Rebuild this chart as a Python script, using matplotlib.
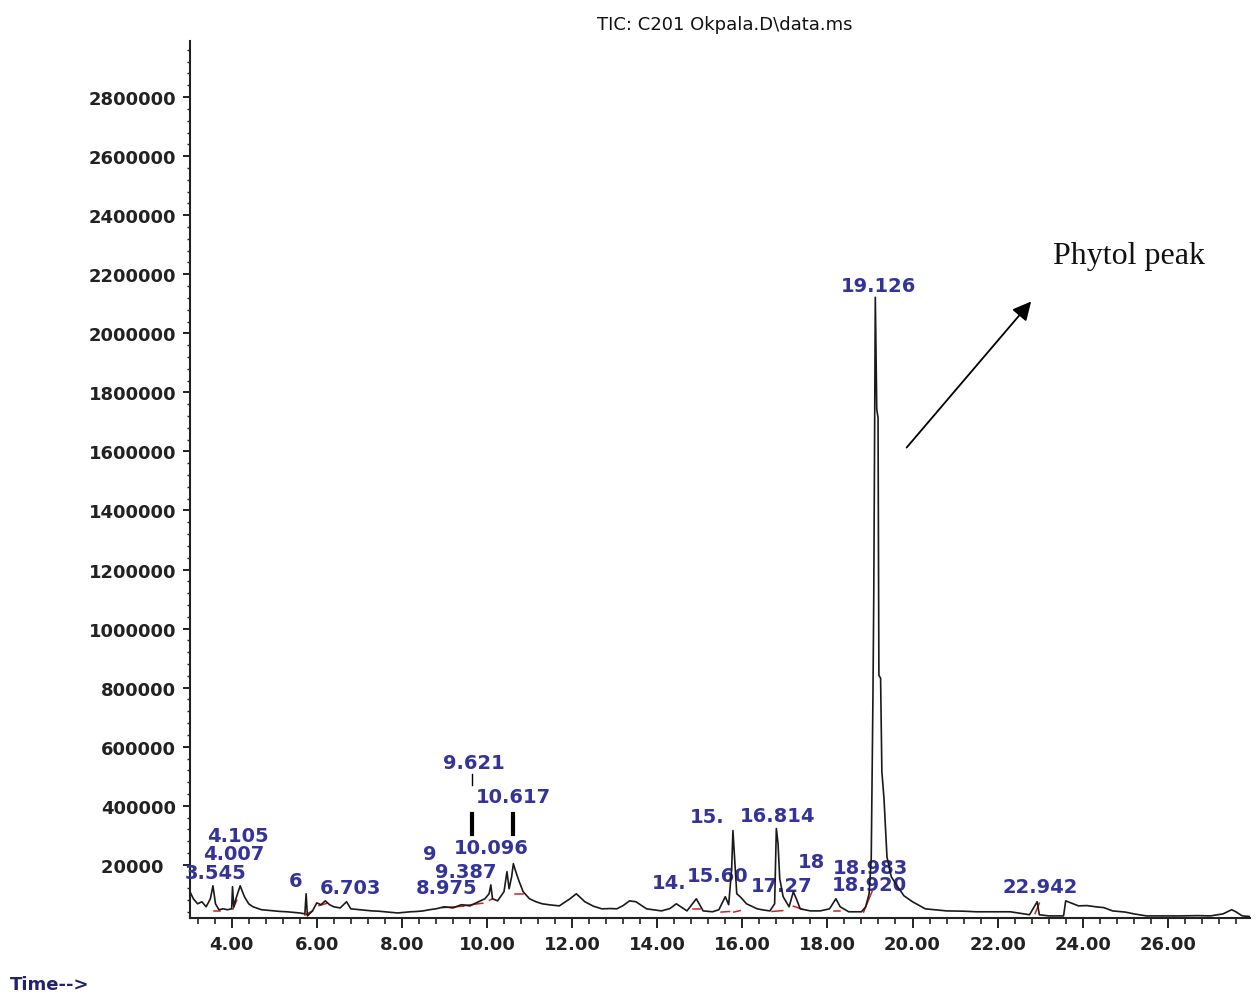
import matplotlib
matplotlib.use('Agg')
import matplotlib.pyplot as plt
from matplotlib.ticker import MultipleLocator

# TIC trace: retention time (min) and abundance
time = [3.02, 3.10, 3.20, 3.30, 3.40, 3.50, 3.56, 3.62, 3.70, 3.80, 3.90, 4.00,
        4.02, 4.05, 4.10, 4.20, 4.30, 4.40, 4.50, 4.70, 4.85, 5.00, 5.15, 5.30,
        5.45, 5.60, 5.72, 5.75, 5.78, 5.90, 6.00, 6.10, 6.20, 6.30, 6.40, 6.55,
        6.70, 6.80, 7.00, 7.15, 7.30, 7.45, 7.60, 7.75, 7.90, 8.05, 8.20, 8.35,
        8.50, 8.65, 8.80, 9.00, 9.20, 9.40, 9.60, 9.80, 9.95, 10.05, 10.09,
        10.13, 10.25, 10.40, 10.47, 10.52, 10.58, 10.62, 10.67, 10.75, 10.85,
        11.00, 11.15, 11.30, 11.50, 11.70, 11.95, 12.10, 12.30, 12.50, 12.70,
        12.90, 13.05, 13.20, 13.35, 13.50, 13.75, 13.90, 14.10, 14.30, 14.45,
        14.70, 14.92, 15.08, 15.30, 15.45, 15.60, 15.68, 15.75, 15.78, 15.82,
        15.87, 15.95, 16.10, 16.35, 16.50, 16.65, 16.76, 16.80, 16.84, 16.88,
        16.96, 17.10, 17.20, 17.27, 17.36, 17.60, 17.83, 18.05, 18.20, 18.30,
        18.50, 18.80, 18.90, 18.98, 19.03, 19.07, 19.09, 19.126, 19.16, 19.19,
        19.21, 19.25, 19.28, 19.33, 19.40, 19.50, 19.65, 19.80, 20.00, 20.30,
        20.80, 21.20, 21.50, 21.90, 22.30, 22.75, 22.93, 22.98, 23.20, 23.55,
        23.60, 23.90, 24.10, 24.30, 24.50, 24.70, 25.00, 25.20, 25.50, 25.90,
        26.30, 26.70, 27.00, 27.30, 27.50, 27.60, 27.75, 27.93]
abundance = [109000, 85000, 68000, 75000, 58000, 85000, 129000, 68000, 48000,
             51000, 48000, 51000, 126000, 58000, 85000, 129000, 92000, 68000,
             58000, 48000, 46000, 44000, 42000, 41000, 39000, 37000, 34000,
             102000, 27000, 44000, 71000, 65000, 78000, 65000, 58000, 54000,
             75000, 51000, 48000, 46000, 44000, 43000, 41000, 39000, 37000,
             39000, 41000, 42000, 44000, 48000, 51000, 58000, 54000, 65000,
             61000, 75000, 85000, 102000, 132000, 85000, 78000, 109000, 177000,
             119000, 160000, 204000, 180000, 146000, 109000, 85000, 75000,
             68000, 64000, 61000, 85000, 102000, 75000, 60000, 51000, 52000,
             51000, 62000, 78000, 75000, 51000, 48000, 44000, 52000, 68000,
             44000, 85000, 44000, 41000, 48000, 92000, 65000, 187000, 316000,
             221000, 102000, 92000, 68000, 51000, 47000, 44000, 68000, 323000,
             272000, 153000, 92000, 58000, 109000, 85000, 51000, 44000, 44000,
             51000, 85000, 58000, 41000, 41000, 58000, 102000, 221000, 764000,
             1120000, 2122000, 1742000, 1715000, 842000, 832000, 516000,
             424000, 227000, 160000, 126000, 95000, 75000, 51000, 44000, 43000,
             41000, 41000, 41000, 31000, 75000, 31000, 27000, 27000, 78000,
             61000, 62000, 58000, 55000, 44000, 40000, 34000, 27000, 27000,
             27000, 28000, 27000, 34000, 48000, 41000, 27000, 25000]

# peak labels as far as they can be read in the picture
label_text = ['4.105', '4.007', '3.545', '6', '6.703', '9', '8.975', '9.387',
              '10.096', '9.621', '10.617', '14.', '15.60', '15.', '16.814',
              '17.27', '18', '18.983', '18.920', '19.126', '22.942']
label_t = [4.15, 4.05, 3.61, 5.51, 6.78, 8.66, 9.06, 9.50, 10.09, 9.69, 10.61,
           14.27, 15.43, 15.17, 16.84, 16.93, 17.62, 19.02, 18.99, 19.19, 23.00]
label_v = [299000, 238000, 173000, 146000, 122000, 238000, 122000, 177000,
           258000, 547000, 431000, 139000, 163000, 363000, 367000, 129000,
           210000, 190000, 132000, 2163000, 126000]

# red integration baselines
base_t0 = [3.58, 4.03, 5.72, 6.05, 8.95, 9.45, 10.06, 10.65, 14.85, 15.50,
           15.80, 16.70, 17.20, 18.15, 18.85, 22.88]
base_t1 = [3.72, 4.12, 5.90, 6.25, 9.45, 9.90, 10.13, 10.85, 15.00, 15.70,
           15.95, 16.95, 17.40, 18.30, 19.05, 22.98]
base_v0 = [44000, 50000, 30000, 62000, 55000, 62000, 80000, 100000, 50000,
           40000, 40000, 42000, 60000, 45000, 40000, 35000]
base_v1 = [44000, 80000, 44000, 70000, 60000, 70000, 85000, 100000, 50000,
           42000, 45000, 45000, 50000, 45000, 110000, 70000]

# black leader marks under the 9.621 / 10.617 labels
mark_t = [9.64, 9.64, 10.61]
mark_v0 = [472000, 305000, 305000]
mark_v1 = [506000, 373000, 373000]
mark_w = [1.0, 3.0, 3.0]

ytick_vals = list(range(200000, 2800001, 200000))
ytick_labels = ['20000\u00a0\u00a0'] + [str(v) for v in ytick_vals[1:]]
xtick_vals = [4, 6, 8, 10, 12, 14, 16, 18, 20, 22, 24, 26]
xtick_labels = ['%.2f' % v for v in xtick_vals]

fig = plt.figure(figsize=(12.58, 9.95), dpi=100)
ax = fig.add_axes([0.151, 0.0764, 0.8426, 0.8814])

ax.plot(time, abundance, color='#1a1a1a', lw=1.2, zorder=3)
for t0, t1, v0, v1 in zip(base_t0, base_t1, base_v0, base_v1):
    ax.plot([t0, t1], [v0, v1], color='#d02020', lw=1.1, zorder=2.8)
for t, v0, v1, w in zip(mark_t, mark_v0, mark_v1, mark_w):
    ax.plot([t, t], [v0, v1], color='black', lw=w, zorder=3)

for txt, t, v in zip(label_text, label_t, label_v):
    ax.text(t, v, txt, color='#33339a', fontsize=14, fontweight='bold',
            ha='center', va='center', zorder=2.6)

# phytol annotation
ax.annotate('', xy=(22.83, 2115000), xytext=(19.82, 1606000),
            arrowprops=dict(arrowstyle='-|>', color='black', lw=1.3,
                            mutation_scale=28), zorder=4)
ax.text(25.08, 2265000, 'Phytol peak', family='Liberation Serif',
        fontsize=23, ha='center', va='center', color='#111111')

ax.set_xlim(3.02, 27.93)
ax.set_ylim(20000, 2990000)
ax.set_xticks(xtick_vals)
ax.set_xticklabels(xtick_labels)
ax.set_yticks(ytick_vals)
ax.set_yticklabels(ytick_labels)
ax.xaxis.set_minor_locator(MultipleLocator(0.4))
ax.yaxis.set_minor_locator(MultipleLocator(40000))
ax.tick_params(which='major', direction='out', length=7, width=1.4,
               labelsize=13, colors='#222222', pad=5)
ax.tick_params(which='minor', direction='out', length=4, width=1.2,
               colors='#222222')
ax.tick_params(axis='y', which='major', length=5)
ax.tick_params(axis='y', which='minor', length=2.5, width=1.0)
for lab in ax.get_xticklabels() + ax.get_yticklabels():
    lab.set_fontweight('bold')

for side in ['top', 'right']:
    ax.spines[side].set_visible(False)
for side in ['left', 'bottom']:
    ax.spines[side].set_linewidth(1.5)
    ax.spines[side].set_color('#222222')

fig.text(725 / 1258, 1 - 25 / 995, 'TIC: C201 Okpala.D\\data.ms',
         fontsize=13, ha='center', va='center', color='#111111')
fig.text(10 / 1258, 1 - 985 / 995, 'Time-->', fontsize=13, fontweight='bold',
         ha='left', va='center', color='#22226e')

fig.savefig('out.png', dpi=100)
